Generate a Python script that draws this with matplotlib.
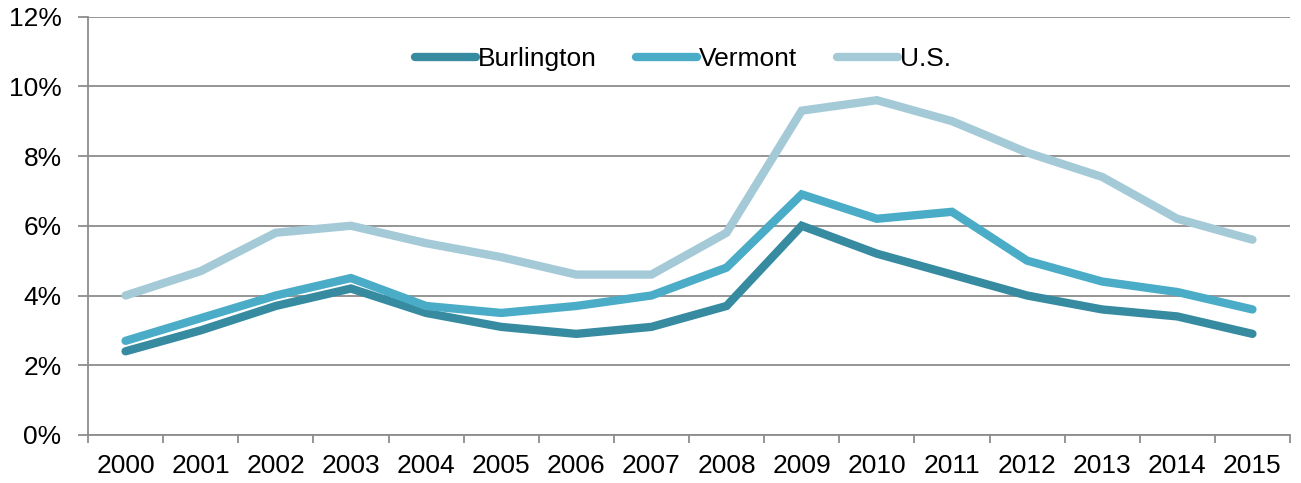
import matplotlib
matplotlib.use("Agg")
import matplotlib.pyplot as plt
from matplotlib.ticker import FuncFormatter, FixedLocator

plt.rcParams['font.family'] = ['Liberation Sans', 'DejaVu Sans']

years = [str(y) for y in range(2000, 2016)]
burlington = [2.4, 3.0, 3.7, 4.2, 3.5, 3.1, 2.9, 3.1, 3.7, 6.0, 5.2, 4.6, 4.0, 3.6, 3.4, 2.9]
vermont = [2.7, 3.35, 4.0, 4.5, 3.7, 3.5, 3.7, 4.0, 4.8, 6.9, 6.2, 6.4, 5.0, 4.4, 4.1, 3.6]
us = [4.0, 4.7, 5.8, 6.0, 5.5, 5.1, 4.6, 4.6, 5.8, 9.3, 9.6, 9.0, 8.1, 7.4, 6.2, 5.6]

series_names = ['Burlington', 'Vermont', 'U.S.']
colors = ['#378BA0', '#4AACC6', '#A5CAD7']

W, H = 1301, 483
fig = plt.figure(figsize=(W / 100, H / 100), dpi=100)
ax = fig.add_axes([88 / W, 1 - 435 / H, (1290 - 88) / W, (435 - 16.5) / H])

x = list(range(len(years)))
for name, vals, c in zip(series_names, [burlington, vermont, us], colors):
    ax.plot(x, vals, color=c, lw=6, solid_capstyle='round', solid_joinstyle='miter', label=name)

ax.set_xlim(-0.5, len(years) - 0.5)
ax.set_ylim(0, 12)
ax.set_yticks(range(0, 13, 2))
ax.yaxis.set_major_formatter(FuncFormatter(lambda v, p: f"{int(v)}%"))
ax.grid(axis='y', color='#8C8C8C', lw=1.3)
ax.set_axisbelow(True)

ax.set_xticks(x)
ax.set_xticklabels(years)
ax.xaxis.set_minor_locator(FixedLocator([i - 0.5 for i in range(len(years) + 1)]))
ax.tick_params(axis='x', which='major', length=0, labelsize=19, pad=14, colors='black')
ax.tick_params(axis='x', which='minor', length=6, width=1.3, color='#8C8C8C')
ax.tick_params(axis='y', length=7, width=1.3, color='#8C8C8C', labelsize=19, pad=12)

for s in ['top', 'right']:
    ax.spines[s].set_visible(False)
for s in ['left', 'bottom']:
    ax.spines[s].set_color('#8C8C8C')
    ax.spines[s].set_linewidth(1.3)

leg = ax.legend(loc='center', bbox_to_anchor=(0.495, 0.898), ncol=3, frameon=False,
                fontsize=19, handlelength=2.3, handletextpad=0.08, columnspacing=1.5)

fig.savefig('out.png', dpi=100)
